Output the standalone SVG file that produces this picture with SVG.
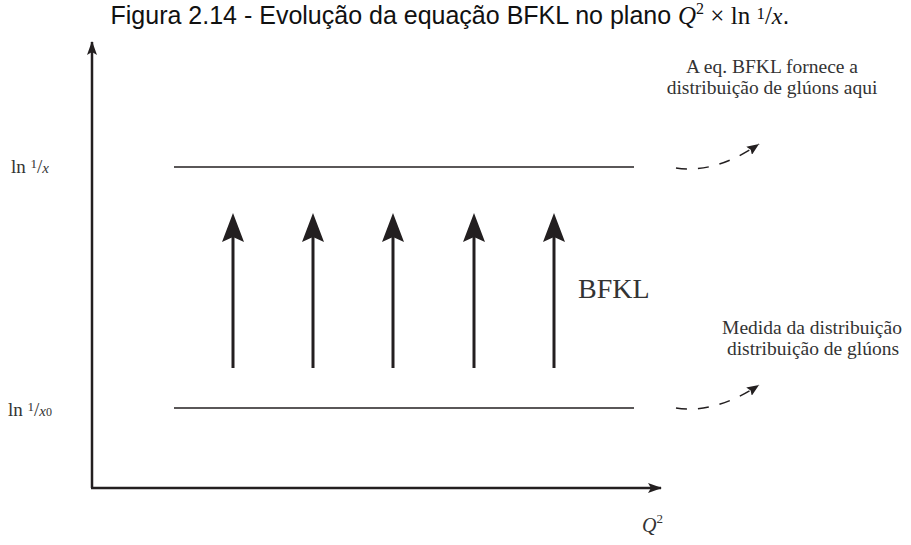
<svg xmlns="http://www.w3.org/2000/svg" width="911" height="545" viewBox="0 0 911 545">
<defs>
<marker id="big" markerWidth="32" markerHeight="24" refX="7" refY="12" orient="auto" markerUnits="userSpaceOnUse" viewBox="0 0 32 24">
<path d="M31 12 L2 1 L7 12 L2 23 Z" fill="#231f20"/>
</marker>
<marker id="ax" markerWidth="14" markerHeight="12" refX="13" refY="6" orient="auto" markerUnits="userSpaceOnUse" viewBox="0 0 14 12">
<path d="M0 1 L14 6 L0 11 L3 6 Z" fill="#231f20"/>
</marker>
<marker id="sm" markerWidth="12" markerHeight="10" refX="12" refY="5" orient="auto" markerUnits="userSpaceOnUse" viewBox="0 0 12 10">
<path d="M0 0 L12 5 L0 10 L2 5 Z" fill="#231f20"/>
</marker>
</defs>
<style>
.ser{font-family:"Liberation Serif","DejaVu Serif",serif;fill:#333}
.it{font-style:italic}
.ln{stroke:#231f20;fill:none}
</style>
<rect width="911" height="545" fill="#fff"/>
<text x="450" y="24" text-anchor="middle" font-family="'Liberation Sans','DejaVu Sans',sans-serif" font-size="25" fill="#111">Figura 2.14 - Evolução da equação BFKL no plano <tspan font-family="'Liberation Serif',serif" font-style="italic" font-size="25">Q</tspan><tspan font-family="'Liberation Serif',serif" font-size="16" dy="-10">2</tspan><tspan font-family="'Liberation Serif',serif" font-size="25" dy="10"> × ln </tspan><tspan font-family="'Liberation Serif',serif" font-size="17" dy="-5">1</tspan><tspan font-family="'Liberation Serif',serif" font-size="25" dy="5">/</tspan><tspan font-family="'Liberation Serif',serif" font-style="italic" font-size="24">x</tspan>.</text>
<g id="connectors">
<line class="ln" x1="92" y1="488" x2="92" y2="42" stroke-width="2.5" marker-end="url(#ax)"/>
<line class="ln" x1="91" y1="488" x2="661" y2="488" stroke-width="2.5" marker-end="url(#ax)"/>
<line class="ln" x1="174" y1="167" x2="634" y2="167" stroke-width="1.5"/>
<line class="ln" x1="174" y1="408" x2="634" y2="408" stroke-width="1.5"/>
<g stroke-width="3">
<line class="ln" x1="233" y1="368" x2="233" y2="237" marker-end="url(#big)"/>
<line class="ln" x1="313" y1="368" x2="313" y2="237" marker-end="url(#big)"/>
<line class="ln" x1="393" y1="368" x2="393" y2="237" marker-end="url(#big)"/>
<line class="ln" x1="474" y1="368" x2="474" y2="237" marker-end="url(#big)"/>
<line class="ln" x1="554" y1="368" x2="554" y2="237" marker-end="url(#big)"/>
</g>
<path class="ln" d="M676 168 Q715 174 759 144" stroke-width="1.5" stroke-dasharray="11,11" marker-end="url(#sm)"/>
<path class="ln" d="M676 408 Q715 414 759 385" stroke-width="1.5" stroke-dasharray="11,11" marker-end="url(#sm)"/>
</g>
<g id="label-lnx">
<text class="ser" x="11" y="173" font-size="19">ln <tspan font-size="13" dy="-5">1</tspan><tspan dy="5">/</tspan><tspan class="it" font-size="15">x</tspan></text>
</g>
<g id="label-lnx0">
<text class="ser" x="8" y="416" font-size="19">ln <tspan font-size="13" dy="-5">1</tspan><tspan dy="5">/</tspan><tspan class="it" font-size="15">x</tspan><tspan font-size="12">0</tspan></text>
</g>
<g id="label-Q2">
<text class="ser it" x="642" y="532" font-size="20">Q<tspan font-style="normal" font-size="13" dy="-9">2</tspan></text>
</g>
<g id="label-bfkl">
<text class="ser" x="578" y="298" font-size="28">BFKL</text>
</g>
<g id="note-top">
<text class="ser" x="772" y="73" font-size="19.5" text-anchor="middle">A eq. BFKL fornece a</text>
<text class="ser" x="772" y="94" font-size="19.5" text-anchor="middle">distribuição de glúons aqui</text>
</g>
<g id="note-bottom">
<text class="ser" x="812" y="334" font-size="19.5" text-anchor="middle">Medida da distribuição</text>
<text class="ser" x="813" y="355" font-size="19.5" text-anchor="middle">distribuição de glúons</text>
</g>
</svg>
